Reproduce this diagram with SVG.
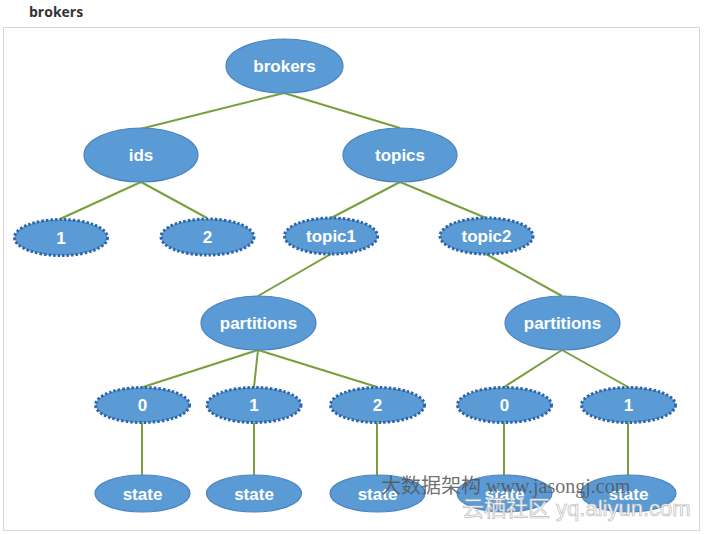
<svg xmlns="http://www.w3.org/2000/svg" width="704" height="534" viewBox="0 0 704 534">
<style>
.n{fill:#5B9BD5;stroke:#4A84C0;stroke-width:1.2}
.d{fill:#5B9BD5;stroke:#2E64A8;stroke-width:3;stroke-dasharray:2.5 2}
.t{font-family:"Liberation Sans",Arial,sans-serif;font-weight:bold;font-size:17px;fill:#fff;text-anchor:middle}
.e{stroke:#77A03C;stroke-width:2;fill:none}
</style>
<rect width="704" height="534" fill="#fff"/>
<text x="29" y="17" font-family="Open Sans, sans-serif" font-weight="bold" font-size="14" fill="#333">brokers</text>
<rect x="3.5" y="27.5" width="696" height="503" fill="none" stroke="#d6d6d6" stroke-width="1"/>
<g id="connectors" class="e">
<line x1="284" y1="93" x2="140" y2="129"/>
<line x1="284" y1="93" x2="400" y2="128"/>
<line x1="141" y1="182" x2="60" y2="219"/>
<line x1="141" y1="182" x2="207" y2="218"/>
<line x1="400" y1="182" x2="331" y2="218"/>
<line x1="400" y1="182" x2="486" y2="218"/>
<line x1="331" y1="254" x2="258" y2="296"/>
<line x1="486" y1="254" x2="562" y2="296"/>
<line x1="258" y1="350" x2="143" y2="387"/>
<line x1="258" y1="350" x2="254" y2="387"/>
<line x1="258" y1="350" x2="377" y2="387"/>
<line x1="562" y1="350" x2="504" y2="387"/>
<line x1="562" y1="350" x2="628" y2="387"/>
<line x1="142" y1="423" x2="142" y2="475"/>
<line x1="254" y1="423" x2="254" y2="475"/>
<line x1="377" y1="423" x2="377" y2="475"/>
<line x1="504" y1="423" x2="504" y2="475"/>
<line x1="628" y1="423" x2="628" y2="475"/>
</g>
<g id="brokers"><ellipse class="n" cx="284.5" cy="66" rx="58.5" ry="27"/><text class="t" x="284.5" y="72">brokers</text></g>
<g id="ids"><ellipse class="n" cx="141" cy="155" rx="57" ry="27"/><text class="t" x="141" y="161">ids</text></g>
<g id="topics"><ellipse class="n" cx="400" cy="155" rx="57" ry="27"/><text class="t" x="400" y="161">topics</text></g>
<g id="id1"><ellipse class="d" cx="61" cy="237.5" rx="46.5" ry="18"/><text class="t" x="61" y="243.5">1</text></g>
<g id="id2"><ellipse class="d" cx="207.5" cy="237" rx="46.5" ry="18"/><text class="t" x="207.5" y="243">2</text></g>
<g id="topic1"><ellipse class="d" cx="331" cy="236" rx="46.5" ry="18"/><text class="t" x="331" y="242">topic1</text></g>
<g id="topic2"><ellipse class="d" cx="486.5" cy="236" rx="46.5" ry="18"/><text class="t" x="486.5" y="242">topic2</text></g>
<g id="partitions1"><ellipse class="n" cx="258.5" cy="323" rx="57.5" ry="27"/><text class="t" x="258.5" y="329">partitions</text></g>
<g id="partitions2"><ellipse class="n" cx="562.5" cy="323" rx="57.5" ry="27"/><text class="t" x="562.5" y="329">partitions</text></g>
<g id="p1-0"><ellipse class="d" cx="142.5" cy="405" rx="47" ry="17.5"/><text class="t" x="142.5" y="411">0</text></g>
<g id="p1-1"><ellipse class="d" cx="254" cy="405" rx="47" ry="17.5"/><text class="t" x="254" y="411">1</text></g>
<g id="p1-2"><ellipse class="d" cx="377.5" cy="405" rx="47" ry="17.5"/><text class="t" x="377.5" y="411">2</text></g>
<g id="p2-0"><ellipse class="d" cx="504.5" cy="405" rx="47" ry="17.5"/><text class="t" x="504.5" y="411">0</text></g>
<g id="p2-1"><ellipse class="d" cx="628.5" cy="405" rx="47" ry="17.5"/><text class="t" x="628.5" y="411">1</text></g>
<g id="s1"><ellipse class="n" cx="142.5" cy="493.5" rx="47.5" ry="18.5"/><text class="t" x="142.5" y="499.5">state</text></g>
<g id="s2"><ellipse class="n" cx="254" cy="493.5" rx="47.5" ry="18.5"/><text class="t" x="254" y="499.5">state</text></g>
<g id="s3"><ellipse class="n" cx="377.5" cy="493.5" rx="47.5" ry="18.5"/><text class="t" x="377.5" y="499.5">state</text></g>
<g id="s4"><ellipse class="n" cx="504.5" cy="493.5" rx="47.5" ry="18.5"/><text class="t" x="504.5" y="499.5">state</text></g>
<g id="s5"><ellipse class="n" cx="628.5" cy="493.5" rx="47.5" ry="18.5"/><text class="t" x="628.5" y="499.5">state</text></g>
<text x="381" y="493" font-family="Liberation Serif, Noto Sans CJK SC, serif" font-size="20" fill="#555" fill-opacity="0.85">大数据架构 www.jasongj.com</text>
<text x="462" y="516" font-family="Liberation Sans, Noto Sans CJK SC, sans-serif" font-size="22" fill="#fff" stroke="#bbb" stroke-width="0.7">云栖社区 yq.aliyun.com</text>
</svg>
